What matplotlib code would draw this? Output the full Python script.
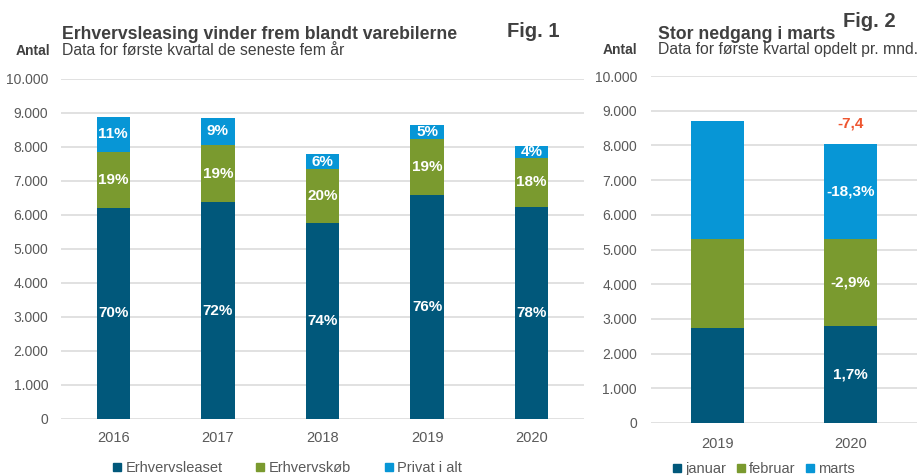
#!/usr/bin/env python3
"""
Varebiler i første kvartal: Fig. 1 (fordeling på ejerform) og Fig. 2 (pr. måned)
"""

import matplotlib
matplotlib.use('Agg')
import matplotlib.pyplot as plt
from matplotlib.lines import Line2D
from matplotlib.ticker import FuncFormatter

plt.rcParams['font.family'] = ['Liberation Sans', 'DejaVu Sans']

# Fig. 1 data
years = ['2016', '2017', '2018', '2019', '2020']
leaset = [6215, 6370, 5775, 6590, 6245]
koeb = [1645, 1690, 1570, 1635, 1440]
privat = [1020, 800, 445, 430, 335]
leaset_lbl = ['70%', '72%', '74%', '76%', '78%']
koeb_lbl = ['19%', '19%', '20%', '19%', '18%']
privat_lbl = ['11%', '9%', '6%', '5%', '4%']
series1 = ['Erhvervsleaset', 'Erhvervskøb', 'Privat i alt']

# Fig. 2 data
years2 = ['2019', '2020']
januar = [2745, 2795]
februar = [2555, 2500]
marts = [3400, 2745]
jan_lbl = ['', '1,7%']
feb_lbl = ['', '-2,9%']
mar_lbl = ['', '-18,3%']
total_lbl = ['', '-7,4']
series2 = ['januar', 'februar', 'marts']

DARK = '#01587B'
GREEN = '#7A9A2F'
LIGHT = '#0796D6'
RED = '#EE5530'
TITLE = '#404040'
TICK = '#595959'
GRID = '#D9D9D9'

W, H = 917, 475
fig = plt.figure(figsize=(W / 100, H / 100), dpi=100)


def fx(px):
    return px / W


def fy(py):
    return 1 - py / H


def thousands(v, pos):
    return f'{int(v):,}'.replace(',', '.')


def style_axis(ax, xlabels, ypad, xpad):
    ax.set_ylim(0, 10000)
    ax.set_yticks(range(0, 10001, 1000))
    ax.yaxis.set_major_formatter(FuncFormatter(thousands))
    ax.grid(True, axis='y', color=GRID, linewidth=1.1)
    ax.set_axisbelow(True)
    for s in ax.spines.values():
        s.set_visible(False)
    ax.tick_params(axis='both', length=0, colors=TICK)
    ax.tick_params(axis='y', labelsize=10, pad=ypad)
    ax.tick_params(axis='x', labelsize=10.5, pad=xpad)
    ax.set_xticks(range(len(xlabels)))
    ax.set_xticklabels(xlabels)


def stack(ax, x, parts, labels, colors, width):
    bottom = [0] * len(x)
    for vals, lbls, col in zip(parts, labels, colors):
        ax.bar(x, vals, width, bottom=bottom, color=col, edgecolor='none')
        for xi, v, b, t in zip(x, vals, bottom, lbls):
            if t:
                ax.text(xi, b + v / 2, t, ha='center', va='center',
                        color='white', fontsize=11, fontweight='bold')
        bottom = [b + v for b, v in zip(bottom, vals)]
    return bottom


# ---- Fig. 1 ----
ax1 = fig.add_axes([fx(61), fy(419), fx(584) - fx(61), fy(79) - fy(419)])
x1 = list(range(len(years)))
stack(ax1, x1, [leaset, koeb, privat], [leaset_lbl, koeb_lbl, privat_lbl],
      [DARK, GREEN, LIGHT], 0.32)
ax1.set_xlim(-0.5, len(years) - 0.5)
style_axis(ax1, years, 9, 9)

fig.text(fx(62), fy(39), 'Erhvervsleasing vinder frem blandt varebilerne',
         fontsize=12.7, fontweight='bold', color=TITLE, va='baseline')
fig.text(fx(62), fy(55), 'Data for første kvartal de seneste fem år',
         fontsize=11.3, color=TITLE, va='baseline')
fig.text(fx(50), fy(55), 'Antal', fontsize=10, fontweight='bold',
         color=TITLE, va='baseline', ha='right')
fig.text(fx(507), fy(37), 'Fig. 1', fontsize=14.5, fontweight='bold',
         color=TITLE, va='baseline')

handles1 = [Line2D([], [], marker='s', linestyle='', markersize=6, color=c)
            for c in [DARK, GREEN, LIGHT]]
fig.legend(handles1, series1, loc='center left', bbox_to_anchor=(fx(113), fy(468)),
           ncol=3, frameon=False, fontsize=10.5, handlelength=0.6,
           handletextpad=0.25, columnspacing=2.3, labelcolor=TICK,
           borderaxespad=0, borderpad=0)

# ---- Fig. 2 ----
ax2 = fig.add_axes([fx(651), fy(423), 1 - fx(651), fy(76) - fy(423)])
x2 = list(range(len(years2)))
tops = stack(ax2, x2, [januar, februar, marts], [jan_lbl, feb_lbl, mar_lbl],
             [DARK, GREEN, LIGHT], 0.40)
for xi, t, lbl in zip(x2, tops, total_lbl):
    if lbl:
        ax2.text(xi, t + 580, lbl, ha='center', va='center', color=RED,
                 fontsize=11, fontweight='bold')
ax2.set_xlim(-0.5, len(years2) - 0.5)
style_axis(ax2, years2, 10, 10)

fig.text(fx(658), fy(39), 'Stor nedgang i marts', fontsize=12.7,
         fontweight='bold', color=TITLE, va='baseline')
fig.text(fx(658), fy(54), 'Data for første kvartal opdelt pr. mnd.',
         fontsize=11.3, color=TITLE, va='baseline')
fig.text(fx(637), fy(54), 'Antal', fontsize=10, fontweight='bold',
         color=TITLE, va='baseline', ha='right')
fig.text(fx(843), fy(27), 'Fig. 2', fontsize=14.5, fontweight='bold',
         color=TITLE, va='baseline')

handles2 = [Line2D([], [], marker='s', linestyle='', markersize=6, color=c)
            for c in [DARK, GREEN, LIGHT]]
fig.legend(handles2, series2, loc='center left', bbox_to_anchor=(fx(673), fy(469)),
           ncol=3, frameon=False, fontsize=10.5, handlelength=0.6,
           handletextpad=0.25, columnspacing=0.7, labelcolor=TICK,
           borderaxespad=0, borderpad=0)

fig.savefig('out.png', dpi=100)
